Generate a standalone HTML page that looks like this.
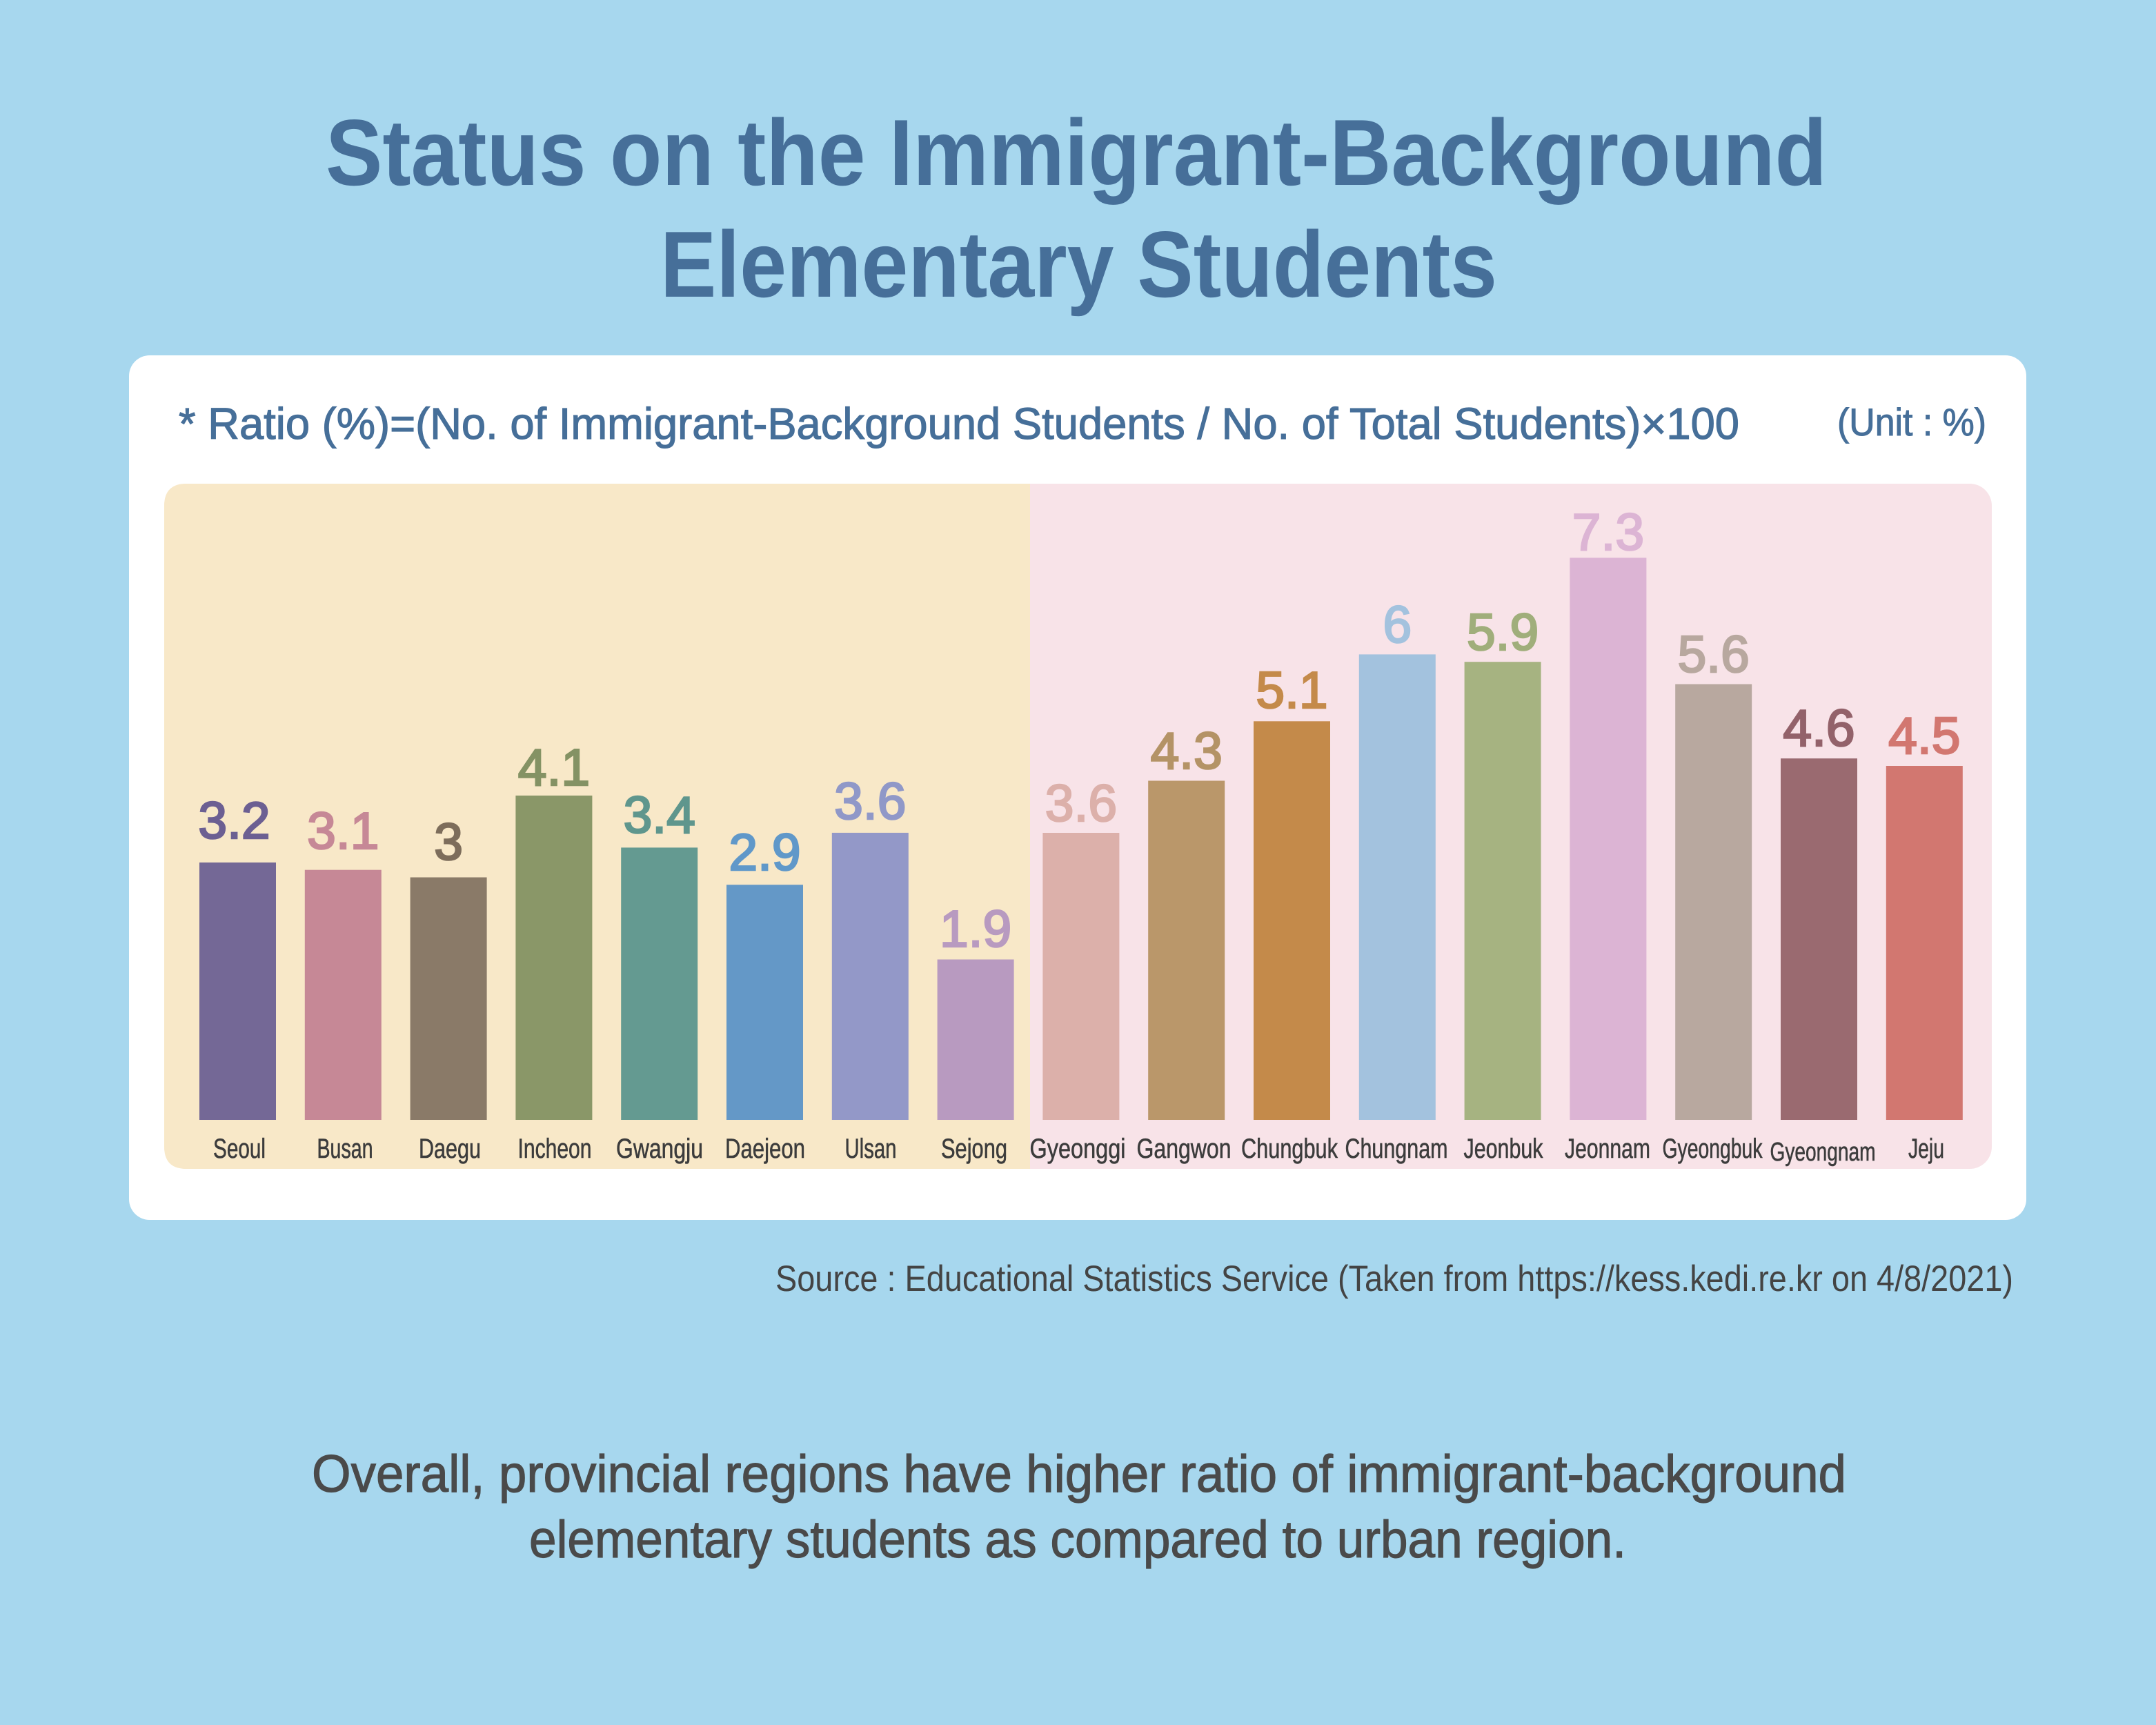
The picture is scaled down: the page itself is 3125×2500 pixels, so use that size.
<!DOCTYPE html>
<html>
<head>
<meta charset="utf-8">
<style>
  html,body{margin:0;padding:0;background:#a7d7ee;}
  svg{display:block;}
  text{font-family:"Liberation Sans", sans-serif;}
</style>
</head>
<body>
<svg width="3125" height="2500" viewBox="0 0 3125 2500" xmlns="http://www.w3.org/2000/svg">
  <rect x="0" y="0" width="3125" height="2500" fill="#a7d7ee"/>

  <!-- Title -->
  <text x="472" y="268" font-size="136" font-weight="bold" fill="#466f99" textLength="2176" lengthAdjust="spacingAndGlyphs">Status on the Immigrant-Background</text>
  <text x="957" y="430" font-size="136" font-weight="bold" fill="#466f99" textLength="1213" lengthAdjust="spacingAndGlyphs">Elementary Students</text>

  <!-- Card -->
  <rect x="187" y="515" width="2750" height="1253" rx="30" ry="30" fill="#ffffff"/>

  <!-- Subtitle -->
  <text x="259" y="636" font-size="64" fill="#466f99" stroke="#466f99" stroke-width="1.2" textLength="2262" lengthAdjust="spacingAndGlyphs">* Ratio (%)=(No. of Immigrant-Background Students / No. of Total Students)×100</text>
  <text x="2663" y="631" font-size="56" fill="#466f99" stroke="#466f99" stroke-width="1" textLength="216" lengthAdjust="spacingAndGlyphs">(Unit : %)</text>

  <!-- Panels -->
  <rect x="238" y="701" width="2649" height="993" rx="32" ry="32" fill="#f8e3e8"/>
  <path d="M1493 701 L270 701 Q238 701 238 733 L238 1662 Q238 1694 270 1694 L1493 1694 Z" fill="#f8e8c8"/>

  <!-- Bars -->
  <g>
    <rect x="289.0" y="1250.0" width="111" height="373" fill="#746896"/>
    <rect x="441.8" y="1260.7" width="111" height="362.3" fill="#c68896"/>
    <rect x="594.6" y="1271.5" width="111" height="351.5" fill="#8a7a68"/>
    <rect x="747.4" y="1153.0" width="111" height="470" fill="#8a9768"/>
    <rect x="900.2" y="1228.4" width="111" height="394.6" fill="#649a91"/>
    <rect x="1053.0" y="1282.3" width="111" height="340.7" fill="#6498c7"/>
    <rect x="1205.8" y="1206.9" width="111" height="416.1" fill="#9398c8"/>
    <rect x="1358.6" y="1390.5" width="111" height="232.5" fill="#b89ac0"/>
    <rect x="1511.4" y="1207.0" width="111" height="416" fill="#dcb0aa"/>
    <rect x="1664.2" y="1131.5" width="111" height="491.5" fill="#ba976a"/>
    <rect x="1817.0" y="1045.3" width="111" height="577.7" fill="#c48a4a"/>
    <rect x="1969.8" y="948.4" width="111" height="674.6" fill="#a3c2de"/>
    <rect x="2122.6" y="959.2" width="111" height="663.8" fill="#a6b381"/>
    <rect x="2275.4" y="808.4" width="111" height="814.6" fill="#dcb4d4"/>
    <rect x="2428.2" y="991.5" width="111" height="631.5" fill="#b8a89f"/>
    <rect x="2581.0" y="1099.2" width="111" height="523.8" fill="#9a6a70"/>
    <rect x="2733.8" y="1110.0" width="111" height="513" fill="#d27770"/>
  </g>

  <!-- Value labels -->
  <g font-size="75" text-anchor="middle" stroke-width="2.6">
    <text x="339.5" y="1215" fill="#6c5f92" stroke="#6c5f92">3.2</text>
    <text x="497.3" y="1230" fill="#c68896" stroke="#c68896">3.1</text>
    <text x="650.1" y="1246" fill="#7d6d5b" stroke="#7d6d5b">3</text>
    <text x="802.9" y="1138" fill="#849264" stroke="#849264">4.1</text>
    <text x="955.7" y="1207" fill="#5f968d" stroke="#5f968d">3.4</text>
    <text x="1108.5" y="1261" fill="#6098c9" stroke="#6098c9">2.9</text>
    <text x="1261.3" y="1187" fill="#9098c8" stroke="#9098c8">3.6</text>
    <text x="1414.1" y="1372" fill="#b89ac0" stroke="#b89ac0">1.9</text>
    <text x="1566.9" y="1190" fill="#dcb0aa" stroke="#dcb0aa">3.6</text>
    <text x="1719.7" y="1114" fill="#b49366" stroke="#b49366">4.3</text>
    <text x="1872.5" y="1026" fill="#c48a4a" stroke="#c48a4a">5.1</text>
    <text x="2025.3" y="931" fill="#a3c2de" stroke="#a3c2de">6</text>
    <text x="2178.1" y="942" fill="#a0ae7b" stroke="#a0ae7b">5.9</text>
    <text x="2330.9" y="797" fill="#dcb4d4" stroke="#dcb4d4">7.3</text>
    <text x="2483.7" y="974" fill="#b8a89f" stroke="#b8a89f">5.6</text>
    <text x="2636.5" y="1081" fill="#93626a" stroke="#93626a">4.6</text>
    <text x="2789.3" y="1092" fill="#d27770" stroke="#d27770">4.5</text>
  </g>

  <!-- Category labels -->
  <g font-size="40" text-anchor="middle" fill="#3c3c3c" stroke="#3c3c3c" stroke-width="0.6">
    <text x="347" y="1678" textLength="76" lengthAdjust="spacingAndGlyphs">Seoul</text>
    <text x="500" y="1678" textLength="81" lengthAdjust="spacingAndGlyphs">Busan</text>
    <text x="652" y="1678" textLength="90" lengthAdjust="spacingAndGlyphs">Daegu</text>
    <text x="804" y="1678" textLength="107" lengthAdjust="spacingAndGlyphs">Incheon</text>
    <text x="956" y="1678" textLength="126" lengthAdjust="spacingAndGlyphs">Gwangju</text>
    <text x="1109" y="1678" textLength="116" lengthAdjust="spacingAndGlyphs">Daejeon</text>
    <text x="1262" y="1678" textLength="75" lengthAdjust="spacingAndGlyphs">Ulsan</text>
    <text x="1412" y="1678" textLength="96" lengthAdjust="spacingAndGlyphs">Sejong</text>
    <text x="1562" y="1678" textLength="139" lengthAdjust="spacingAndGlyphs">Gyeonggi</text>
    <text x="1716" y="1678" textLength="137" lengthAdjust="spacingAndGlyphs">Gangwon</text>
    <text x="1869" y="1678" textLength="140" lengthAdjust="spacingAndGlyphs">Chungbuk</text>
    <text x="2024" y="1678" textLength="149" lengthAdjust="spacingAndGlyphs">Chungnam</text>
    <text x="2179" y="1678" textLength="115" lengthAdjust="spacingAndGlyphs">Jeonbuk</text>
    <text x="2330" y="1678" textLength="124" lengthAdjust="spacingAndGlyphs">Jeonnam</text>
    <text x="2482" y="1678" textLength="145" lengthAdjust="spacingAndGlyphs">Gyeongbuk</text>
    <text x="2642" y="1682" font-size="38" textLength="153" lengthAdjust="spacingAndGlyphs">Gyeongnam</text>
    <text x="2792" y="1678" textLength="52" lengthAdjust="spacingAndGlyphs">Jeju</text>
  </g>

  <!-- Source -->
  <text x="1124" y="1871" font-size="53" fill="#444444" textLength="1794" lengthAdjust="spacingAndGlyphs">Source : Educational Statistics Service (Taken from https://kess.kedi.re.kr on 4/8/2021)</text>

  <!-- Conclusion -->
  <text x="452" y="2162" font-size="76" fill="#4a4a4a" stroke="#4a4a4a" stroke-width="1.2" textLength="2224" lengthAdjust="spacingAndGlyphs">Overall, provincial regions have higher ratio of immigrant-background</text>
  <text x="767" y="2257" font-size="76" fill="#4a4a4a" stroke="#4a4a4a" stroke-width="1.2" textLength="1590" lengthAdjust="spacingAndGlyphs">elementary students as compared to urban region.</text>
</svg>
</body>
</html>
